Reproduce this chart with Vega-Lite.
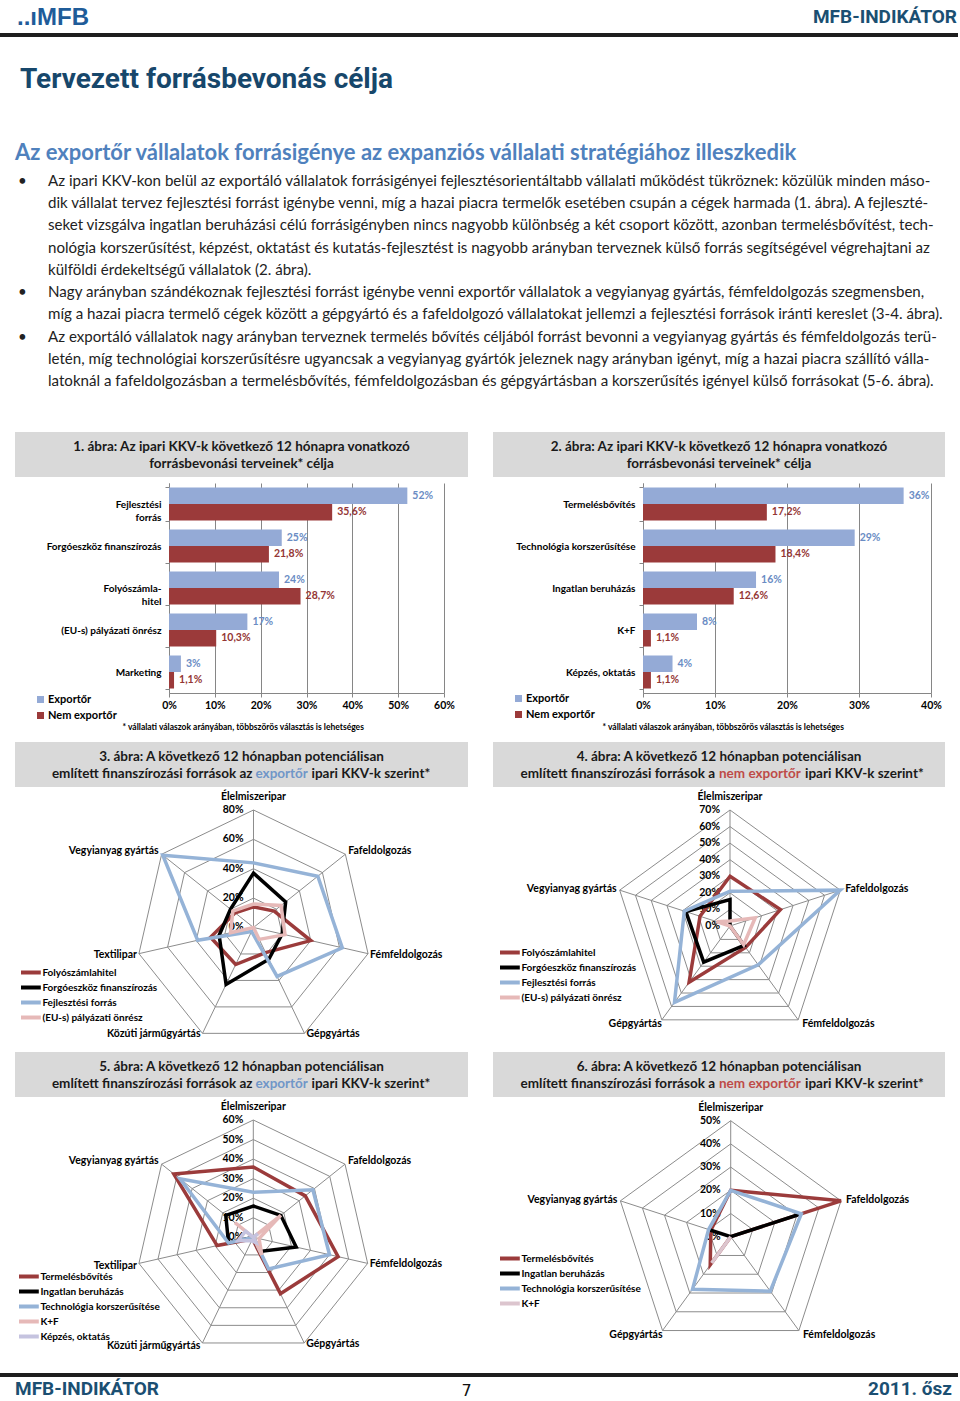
{
"$schema":"https://vega.github.io/schema/vega-lite/v6.json",
"background":"white","padding":0,"spacing":0,
"resolve":{"scale":{"color":"independent"}},
"config":{"view":{"stroke":null},"font":"Lato","text":{"font":"Lato"},"axis":{"labelFont":"Lato","titleFont":"Lato"},"legend":{"labelFont":"Lato"}},
"vconcat":[
{"width":960,"height":33,
 "data":{"values":[{"hely":"bal","szoveg":"..ıMFB"},{"hely":"jobb","szoveg":"MFB-INDIKÁTOR"}]},
 "encoding":{"x":{"field":"hely","type":"nominal","axis":null,"scale":{"type":"point","domain":["bal","jobb"],"range":[17,957],"padding":0}},"text":{"field":"szoveg"}},
 "layer":[
  {"transform":[{"filter":"datum.hely === 'bal'"}],"mark":{"type":"text","align":"left","baseline":"middle","font":"Liberation Sans","fontWeight":"bold","fontSize":24,"color":"#1F5C99","dy":1}},
  {"transform":[{"filter":"datum.hely === 'jobb'"}],"mark":{"type":"text","align":"right","baseline":"middle","font":"Roboto","fontWeight":"bold","fontSize":19,"color":"#1B4F72"}}
 ]},
{"width":958,"height":4,"view":{"fill":"#1E1E1E"},"data":{"values":[]},"mark":{"type":"text","text":""}},
{"width":960,"height":94,"data":{"values":[{"hely":"a","szoveg":"Tervezett forrásbevonás célja"}]},
 "mark":{"type":"text","align":"left","baseline":"alphabetic","dy":4,"font":"Roboto","fontWeight":"bold","fontSize":28,"color":"#17476B"},
 "encoding":{"x":{"field":"hely","type":"nominal","axis":null,"scale":{"type":"point","range":[20,20]}},"text":{"field":"szoveg"}}},
{"width":960,"height":37,"data":{"values":[{"hely":"a","szoveg":"Az exportőr vállalatok forrásigénye az expanziós vállalati stratégiához illeszkedik"}]},
 "mark":{"type":"text","align":"left","baseline":"alphabetic","dy":10.5,"font":"Lato","fontWeight":"bold","fontSize":22,"color":"#4F81BD"},
 "encoding":{"x":{"field":"hely","type":"nominal","axis":null,"scale":{"type":"point","range":[15,15]}},"text":{"field":"szoveg"}}},
{"width":960,"height":236,
 "data":{"values":[
  {"sor":1,"oszlop":"pont","szoveg":"•"},
  {"sor":1,"oszlop":"szoveg","szoveg":"Az ipari KKV-kon belül az exportáló vállalatok forrásigényei fejlesztésorientáltabb vállalati működést tükröznek: közülük minden máso-"},
  {"sor":2,"oszlop":"szoveg","szoveg":"dik vállalat tervez fejlesztési forrást igénybe venni, míg a hazai piacra termelők esetében csupán a cégek harmada (1. ábra). A fejleszté-"},
  {"sor":3,"oszlop":"szoveg","szoveg":"seket vizsgálva ingatlan beruházási célú forrásigényben nincs nagyobb különbség a két csoport között, azonban termelésbővítést, tech-"},
  {"sor":4,"oszlop":"szoveg","szoveg":"nológia korszerűsítést, képzést, oktatást és kutatás-fejlesztést is nagyobb arányban terveznek külső forrás segítségével végrehajtani az"},
  {"sor":5,"oszlop":"szoveg","szoveg":"külföldi érdekeltségű vállalatok (2. ábra)."},
  {"sor":6,"oszlop":"pont","szoveg":"•"},
  {"sor":6,"oszlop":"szoveg","szoveg":"Nagy arányban szándékoznak fejlesztési forrást igénybe venni exportőr vállalatok a vegyianyag gyártás, fémfeldolgozás szegmensben,"},
  {"sor":7,"oszlop":"szoveg","szoveg":"míg a hazai piacra termelő cégek között a gépgyártó és a fafeldolgozó vállalatokat jellemzi a fejlesztési források iránti kereslet (3-4. ábra)."},
  {"sor":8,"oszlop":"pont","szoveg":"•"},
  {"sor":8,"oszlop":"szoveg","szoveg":"Az exportáló vállalatok nagy arányban terveznek termelés bővítés céljából forrást bevonni a vegyianyag gyártás és fémfeldolgozás terü-"},
  {"sor":9,"oszlop":"szoveg","szoveg":"letén, míg technológiai korszerűsítésre ugyancsak a vegyianyag gyártók jeleznek nagy arányban igényt, míg a hazai piacra szállító válla-"},
  {"sor":10,"oszlop":"szoveg","szoveg":"latoknál a fafeldolgozásban a termelésbővítés, fémfeldolgozásban és gépgyártásban a korszerűsítés igényel külső forrásokat (5-6. ábra)."}
 ]},
 "mark":{"type":"text","align":"left","baseline":"alphabetic","font":"Lato","fontSize":15.1,"color":"#222222"},
 "encoding":{
  "x":{"field":"oszlop","type":"nominal","axis":null,"scale":{"type":"point","domain":["pont","szoveg"],"range":[18,48],"padding":0}},
  "y":{"field":"sor","type":"ordinal","axis":null,"scale":{"type":"point","padding":0.81}},
  "text":{"field":"szoveg"}}},
{"width":960,"height":28,"data":{"values":[]},"mark":{"type":"text","text":""}},
{"hconcat":[
 {"width":15,"height":45,"data":{"values":[]},"mark":{"type":"text","text":""}},
 {"width":453,"height":45,"view":{"fill":"#D9D9D9","stroke":null},
  "data":{"values":[{"sor":1,"szoveg":"1. ábra: Az ipari KKV-k következő 12 hónapra vonatkozó"},{"sor":2,"szoveg":"forrásbevonási  terveinek* célja"}]},
  "mark":{"type":"text","align":"center","baseline":"middle","dy":1,"font":"Lato","fontWeight":"bold","fontSize":13.5,"color":"#1A1A1A"},
  "encoding":{"y":{"field":"sor","type":"ordinal","axis":null,"scale":{"type":"point","padding":0.8}},"text":{"field":"szoveg"}}},
 {"width":25,"height":45,"data":{"values":[]},"mark":{"type":"text","text":""}},
 {"width":452,"height":45,"view":{"fill":"#D9D9D9","stroke":null},
  "data":{"values":[{"sor":1,"szoveg":"2. ábra: Az ipari KKV-k következő 12 hónapra vonatkozó"},{"sor":2,"szoveg":"forrásbevonási  terveinek* célja"}]},
  "mark":{"type":"text","align":"center","baseline":"middle","dy":1,"font":"Lato","fontWeight":"bold","fontSize":13.5,"color":"#1A1A1A"},
  "encoding":{"y":{"field":"sor","type":"ordinal","axis":null,"scale":{"type":"point","padding":0.8}},"text":{"field":"szoveg"}}}
],"spacing":0,"bounds":"flush","resolve":{"scale":{"color":"independent"}}},
{"width":960,"height":1,"data":{"values":[]},"mark":{"type":"text","text":""}},
{"hconcat":[
 {"width":169,"height":259,"data":{"values":[]},"mark":{"type":"text","text":""}},
 {"width":275,"height":210,
  "data":{"values":[
   {"kategoria":"Fejlesztési\nforrás","csoport":"Exportőr","ertek":52,"cimke":"52%"},
   {"kategoria":"Fejlesztési\nforrás","csoport":"Nem exportőr","ertek":35.6,"cimke":"35,6%"},
   {"kategoria":"Forgóeszköz finanszírozás","csoport":"Exportőr","ertek":24.6,"cimke":"25%"},
   {"kategoria":"Forgóeszköz finanszírozás","csoport":"Nem exportőr","ertek":21.8,"cimke":"21,8%"},
   {"kategoria":"Folyószámla-\nhitel","csoport":"Exportőr","ertek":24,"cimke":"24%"},
   {"kategoria":"Folyószámla-\nhitel","csoport":"Nem exportőr","ertek":28.7,"cimke":"28,7%"},
   {"kategoria":"(EU-s) pályázati önrész","csoport":"Exportőr","ertek":17.1,"cimke":"17%"},
   {"kategoria":"(EU-s) pályázati önrész","csoport":"Nem exportőr","ertek":10.3,"cimke":"10,3%"},
   {"kategoria":"Marketing","csoport":"Exportőr","ertek":2.6,"cimke":"3%"},
   {"kategoria":"Marketing","csoport":"Nem exportőr","ertek":1.1,"cimke":"1,1%"}
  ]},
  "encoding":{
   "y":{"field":"kategoria","type":"nominal","sort":null,"title":null,"scale":{"paddingInner":0.214,"paddingOuter":0.107},
    "axis":{"labelExpr":"split(datum.label, '\\n')","labelFont":"Lato","labelFontWeight":"bold","labelFontSize":10,"labelColor":"#000000","labelLineHeight":13.4,"tickBand":"extent","tickSize":4,"tickColor":"#868686","domainColor":"#868686","labelPadding":4,"labelLimit":200}},
   "yOffset":{"field":"csoport","type":"nominal","sort":["Exportőr","Nem exportőr"],"scale":{"paddingInner":0,"paddingOuter":0}},
   "x":{"field":"ertek","type":"quantitative","scale":{"domain":[0,60],"nice":false},
    "axis":{"values":[0,10,20,30,40,50,60],"labelExpr":"datum.value + '%'","labelFlush":false,"labelFontWeight":"bold","labelFontSize":10.5,"labelColor":"#000000","labelPadding":3,"grid":true,"gridColor":"#868686","tickColor":"#868686","tickSize":4,"domainColor":"#868686",
     "title":"* vállalati válaszok arányában, többszörös választás is lehetséges","titleFontSize":8.5,"titleFontWeight":"bold","titleColor":"#000000","titleAlign":"left","titleAnchor":"start","titleX":-47,"titleY":33,"titleBaseline":"middle"}}
  },
  "layer":[
   {"mark":{"type":"bar"},"encoding":{"color":{"field":"csoport","type":"nominal","scale":{"domain":["Exportőr","Nem exportőr"],"range":["#94AAD6","#9B3A3A"]},
     "legend":{"title":null,"orient":"none","legendX":-134,"legendY":211,"symbolType":"square","symbolSize":49,"symbolStrokeWidth":0,"labelFontWeight":"bold","labelFontSize":11,"labelColor":"#000000","labelOffset":2,"rowPadding":4,"padding":0}}}},
   {"mark":{"type":"text","align":"left","dx":5,"baseline":"middle","font":"Lato","fontWeight":"bold","fontSize":10.5},
    "encoding":{"text":{"field":"cimke"},"color":{"condition":{"test":"datum.csoport === 'Exportőr'","value":"#6A8CC4"},"value":"#943634"}}}
  ]},
 {"width":199,"height":259,"data":{"values":[]},"mark":{"type":"text","text":""}},
 {"width":288,"height":210,
  "data":{"values":[
   {"kategoria":"Termelésbővítés","csoport":"Exportőr","ertek":36.2,"cimke":"36%"},
   {"kategoria":"Termelésbővítés","csoport":"Nem exportőr","ertek":17.2,"cimke":"17,2%"},
   {"kategoria":"Technológia korszerűsítése","csoport":"Exportőr","ertek":29.4,"cimke":"29%"},
   {"kategoria":"Technológia korszerűsítése","csoport":"Nem exportőr","ertek":18.4,"cimke":"18,4%"},
   {"kategoria":"Ingatlan beruházás","csoport":"Exportőr","ertek":15.7,"cimke":"16%"},
   {"kategoria":"Ingatlan beruházás","csoport":"Nem exportőr","ertek":12.6,"cimke":"12,6%"},
   {"kategoria":"K+F","csoport":"Exportőr","ertek":7.5,"cimke":"8%"},
   {"kategoria":"K+F","csoport":"Nem exportőr","ertek":1.1,"cimke":"1,1%"},
   {"kategoria":"Képzés, oktatás","csoport":"Exportőr","ertek":4.1,"cimke":"4%"},
   {"kategoria":"Képzés, oktatás","csoport":"Nem exportőr","ertek":1.1,"cimke":"1,1%"}
  ]},
  "encoding":{
   "y":{"field":"kategoria","type":"nominal","sort":null,"title":null,"scale":{"paddingInner":0.214,"paddingOuter":0.107},
    "axis":{"labelFont":"Lato","labelFontWeight":"bold","labelFontSize":10,"labelColor":"#000000","tickBand":"extent","tickSize":4,"tickColor":"#868686","domainColor":"#868686","labelPadding":4,"labelLimit":200}},
   "yOffset":{"field":"csoport","type":"nominal","sort":["Exportőr","Nem exportőr"],"scale":{"paddingInner":0,"paddingOuter":0}},
   "x":{"field":"ertek","type":"quantitative","scale":{"domain":[0,40],"nice":false},
    "axis":{"values":[0,10,20,30,40],"labelExpr":"datum.value + '%'","labelFlush":false,"labelFontWeight":"bold","labelFontSize":10.5,"labelColor":"#000000","labelPadding":3,"grid":true,"gridColor":"#868686","tickColor":"#868686","tickSize":4,"domainColor":"#868686",
     "title":"* vállalati válaszok arányában, többszörös választás is lehetséges","titleFontSize":8.5,"titleFontWeight":"bold","titleColor":"#000000","titleAlign":"left","titleAnchor":"start","titleX":-41,"titleY":33,"titleBaseline":"middle"}}
  },
  "layer":[
   {"mark":{"type":"bar"},"encoding":{"color":{"field":"csoport","type":"nominal","scale":{"domain":["Exportőr","Nem exportőr"],"range":["#94AAD6","#9B3A3A"]},
     "legend":{"title":null,"orient":"none","legendX":-130,"legendY":210,"symbolType":"square","symbolSize":49,"symbolStrokeWidth":0,"labelFontWeight":"bold","labelFontSize":11,"labelColor":"#000000","labelOffset":2,"rowPadding":4,"padding":0}}}},
   {"mark":{"type":"text","align":"left","dx":5,"baseline":"middle","font":"Lato","fontWeight":"bold","fontSize":10.5},
    "encoding":{"text":{"field":"cimke"},"color":{"condition":{"test":"datum.csoport === 'Exportőr'","value":"#6A8CC4"},"value":"#943634"}}}
  ]}
],"spacing":0,"bounds":"flush","resolve":{"scale":{"color":"independent"}}},
{"hconcat":[
 {"width":15,"height":45,"data":{"values":[]},"mark":{"type":"text","text":""}},
 {"width":453,"height":45,"view":{"fill":"#D9D9D9","stroke":null},
  "data":{"values":[{"sor":1,"resz":"a","szoveg":"3. ábra: A következő 12 hónapban  potenciálisan"},{"sor":2,"resz":"b","szoveg":"említett finanszírozási  források az"},{"sor":2,"resz":"c","szoveg":"exportőr"},{"sor":2,"resz":"d","szoveg":"ipari KKV-k szerint*"}]},
  "encoding":{"y":{"field":"sor","type":"ordinal","axis":null,"scale":{"type":"point","padding":0.8}},"text":{"field":"szoveg"}},
  "layer":[
   {"transform":[{"filter":"datum.resz === 'a'"}],"mark":{"type":"text","align":"center","baseline":"middle","dy":1,"font":"Lato","fontWeight":"bold","fontSize":13.5,"color":"#1A1A1A"}},
   {"transform":[{"filter":"datum.resz === 'b'"}],"mark":{"type":"text","align":"right","dx":11,"baseline":"middle","dy":1,"font":"Lato","fontWeight":"bold","fontSize":13.5,"color":"#1A1A1A"}},
   {"transform":[{"filter":"datum.resz === 'c'"}],"mark":{"type":"text","align":"left","dx":14,"baseline":"middle","dy":1,"font":"Lato","fontWeight":"bold","fontSize":13.5,"color":"#7096C8"}},
   {"transform":[{"filter":"datum.resz === 'd'"}],"mark":{"type":"text","align":"left","dx":70,"baseline":"middle","dy":1,"font":"Lato","fontWeight":"bold","fontSize":13.5,"color":"#1A1A1A"}}
  ]},
 {"width":25,"height":45,"data":{"values":[]},"mark":{"type":"text","text":""}},
 {"width":452,"height":45,"view":{"fill":"#D9D9D9","stroke":null},
  "data":{"values":[{"sor":1,"resz":"a","szoveg":"4. ábra: A következő 12 hónapban  potenciálisan"},{"sor":2,"resz":"b","szoveg":"említett finanszírozási  források a"},{"sor":2,"resz":"c","szoveg":"nem exportőr"},{"sor":2,"resz":"d","szoveg":"ipari KKV-k szerint*"}]},
  "encoding":{"y":{"field":"sor","type":"ordinal","axis":null,"scale":{"type":"point","padding":0.8}},"text":{"field":"szoveg"}},
  "layer":[
   {"transform":[{"filter":"datum.resz === 'a'"}],"mark":{"type":"text","align":"center","baseline":"middle","dy":1,"font":"Lato","fontWeight":"bold","fontSize":13.5,"color":"#1A1A1A"}},
   {"transform":[{"filter":"datum.resz === 'b'"}],"mark":{"type":"text","align":"right","dx":-4,"baseline":"middle","dy":1,"font":"Lato","fontWeight":"bold","fontSize":13.5,"color":"#1A1A1A"}},
   {"transform":[{"filter":"datum.resz === 'c'"}],"mark":{"type":"text","align":"left","dx":0,"baseline":"middle","dy":1,"font":"Lato","fontWeight":"bold","fontSize":13.5,"color":"#BE4B48"}},
   {"transform":[{"filter":"datum.resz === 'd'"}],"mark":{"type":"text","align":"left","dx":86,"baseline":"middle","dy":1,"font":"Lato","fontWeight":"bold","fontSize":13.5,"color":"#1A1A1A"}}
  ]}
],"spacing":0,"bounds":"flush","resolve":{"scale":{"color":"independent"}}},
{"hconcat":[
 {"width":15,"height":265,"data":{"values":[]},"mark":{"type":"text","text":""}},
 {"width":453,"height":265,
  "data":{"values":[
   {"sorozat":"Folyószámlahitel","agazat":"Élelmiszeripar","i":0,"ertek":14},
   {"sorozat":"Folyószámlahitel","agazat":"Fafeldolgozás","i":1,"ertek":18},
   {"sorozat":"Folyószámlahitel","agazat":"Fémfeldolgozás","i":2,"ertek":40},
   {"sorozat":"Folyószámlahitel","agazat":"Gépgyártás","i":3,"ertek":19},
   {"sorozat":"Folyószámlahitel","agazat":"Közúti járműgyártás","i":4,"ertek":28},
   {"sorozat":"Folyószámlahitel","agazat":"Textilipar","i":5,"ertek":30},
   {"sorozat":"Folyószámlahitel","agazat":"Vegyianyag gyártás","i":6,"ertek":16},
   {"sorozat":"Forgóeszköz finanszírozás","agazat":"Élelmiszeripar","i":0,"ertek":37},
   {"sorozat":"Forgóeszköz finanszírozás","agazat":"Fafeldolgozás","i":1,"ertek":28},
   {"sorozat":"Forgóeszköz finanszírozás","agazat":"Fémfeldolgozás","i":2,"ertek":20},
   {"sorozat":"Forgóeszköz finanszírozás","agazat":"Gépgyártás","i":3,"ertek":24},
   {"sorozat":"Forgóeszköz finanszírozás","agazat":"Közúti járműgyártás","i":4,"ertek":43},
   {"sorozat":"Forgóeszköz finanszírozás","agazat":"Textilipar","i":5,"ertek":24},
   {"sorozat":"Forgóeszköz finanszírozás","agazat":"Vegyianyag gyártás","i":6,"ertek":20},
   {"sorozat":"Fejlesztési forrás","agazat":"Élelmiszeripar","i":0,"ertek":44},
   {"sorozat":"Fejlesztési forrás","agazat":"Fafeldolgozás","i":1,"ertek":56},
   {"sorozat":"Fejlesztési forrás","agazat":"Fémfeldolgozás","i":2,"ertek":62},
   {"sorozat":"Fejlesztési forrás","agazat":"Gépgyártás","i":3,"ertek":37},
   {"sorozat":"Fejlesztési forrás","agazat":"Közúti járműgyártás","i":4,"ertek":3},
   {"sorozat":"Fejlesztési forrás","agazat":"Textilipar","i":5,"ertek":39},
   {"sorozat":"Fejlesztési forrás","agazat":"Vegyianyag gyártás","i":6,"ertek":79},
   {"sorozat":"(EU-s) pályázati önrész","agazat":"Élelmiszeripar","i":0,"ertek":16},
   {"sorozat":"(EU-s) pályázati önrész","agazat":"Fafeldolgozás","i":1,"ertek":24},
   {"sorozat":"(EU-s) pályázati önrész","agazat":"Fémfeldolgozás","i":2,"ertek":22},
   {"sorozat":"(EU-s) pályázati önrész","agazat":"Gépgyártás","i":3,"ertek":9},
   {"sorozat":"(EU-s) pályázati önrész","agazat":"Közúti járműgyártás","i":4,"ertek":0},
   {"sorozat":"(EU-s) pályázati önrész","agazat":"Textilipar","i":5,"ertek":16},
   {"sorozat":"(EU-s) pályázati önrész","agazat":"Vegyianyag gyártás","i":6,"ertek":18}
  ]},
  "encoding":{
   "x":{"field":"px","type":"quantitative","axis":null,"scale":{"domain":[-162.38,146.04],"nice":false,"zero":false}},
   "y":{"field":"py","type":"quantitative","axis":null,"scale":{"domain":[-84.77,95.66],"nice":false,"zero":false}}},
  "layer":[
   {"data":{"values":[{"kor":20,"k":[0,1,2,3,4,5,6]},{"kor":40,"k":[0,1,2,3,4,5,6]},{"kor":60,"k":[0,1,2,3,4,5,6]},{"kor":80,"k":[0,1,2,3,4,5,6]}]},
    "transform":[{"flatten":["k"]},{"calculate":"datum.kor*sin(datum.k*2*PI/7)","as":"px"},{"calculate":"datum.kor*cos(datum.k*2*PI/7)","as":"py"}],
    "mark":{"type":"line","interpolate":"linear-closed","color":"#8C8C8C","strokeWidth":1},
    "encoding":{"detail":{"field":"kor","type":"nominal"},"order":{"field":"k","type":"quantitative"}}},
   {"transform":[{"filter":"datum.sorozat === 'Folyószámlahitel'"},{"calculate":"0","as":"px"},{"calculate":"0","as":"py"},{"calculate":"80*sin(datum.i*2*PI/7)","as":"sx"},{"calculate":"80*cos(datum.i*2*PI/7)","as":"sy"}],
    "mark":{"type":"rule","color":"#8C8C8C","strokeWidth":1},
    "encoding":{"x2":{"field":"sx"},"y2":{"field":"sy"}}},
   {"data":{"values":[{"t":0},{"t":20},{"t":40},{"t":60},{"t":80}]},
    "transform":[{"calculate":"0","as":"px"},{"calculate":"datum.t","as":"py"},{"calculate":"datum.t + '%'","as":"cimke"}],
    "mark":{"type":"text","align":"right","dx":-10,"baseline":"middle","font":"Lato","fontWeight":"bold","fontSize":10.5,"color":"#000000"},
    "encoding":{"text":{"field":"cimke"}}},
   {"transform":[{"filter":"datum.sorozat === 'Folyószámlahitel'"},{"calculate":"80*sin(datum.i*2*PI/7)","as":"px"},{"calculate":"80*cos(datum.i*2*PI/7)","as":"py"},{"filter":"abs(datum.px) < 1"}],
    "mark":{"type":"text","align":"center","dy":-13,"baseline":"middle","font":"Lato","fontWeight":"bold","fontSize":10.5,"color":"#000000"},
    "encoding":{"text":{"field":"agazat"}}},
   {"transform":[{"filter":"datum.sorozat === 'Folyószámlahitel'"},{"calculate":"80*sin(datum.i*2*PI/7)","as":"px"},{"calculate":"80*cos(datum.i*2*PI/7)","as":"py"},{"filter":"datum.px >= 1 && datum.py > 0"}],
    "mark":{"type":"text","align":"left","dx":3,"dy":-3,"baseline":"middle","font":"Lato","fontWeight":"bold","fontSize":10.5,"color":"#000000"},
    "encoding":{"text":{"field":"agazat"}}},
   {"transform":[{"filter":"datum.sorozat === 'Folyószámlahitel'"},{"calculate":"80*sin(datum.i*2*PI/7)","as":"px"},{"calculate":"80*cos(datum.i*2*PI/7)","as":"py"},{"filter":"datum.px >= 1 && datum.py <= 0"}],
    "mark":{"type":"text","align":"left","dx":2,"dy":1,"baseline":"middle","font":"Lato","fontWeight":"bold","fontSize":10.5,"color":"#000000"},
    "encoding":{"text":{"field":"agazat"}}},
   {"transform":[{"filter":"datum.sorozat === 'Folyószámlahitel'"},{"calculate":"80*sin(datum.i*2*PI/7)","as":"px"},{"calculate":"80*cos(datum.i*2*PI/7)","as":"py"},{"filter":"datum.px <= -1 && datum.py > 0"}],
    "mark":{"type":"text","align":"right","dx":-3,"dy":-3,"baseline":"middle","font":"Lato","fontWeight":"bold","fontSize":10.5,"color":"#000000"},
    "encoding":{"text":{"field":"agazat"}}},
   {"transform":[{"filter":"datum.sorozat === 'Folyószámlahitel'"},{"calculate":"80*sin(datum.i*2*PI/7)","as":"px"},{"calculate":"80*cos(datum.i*2*PI/7)","as":"py"},{"filter":"datum.px <= -1 && datum.py <= 0"}],
    "mark":{"type":"text","align":"right","dx":-2,"dy":1,"baseline":"middle","font":"Lato","fontWeight":"bold","fontSize":10.5,"color":"#000000"},
    "encoding":{"text":{"field":"agazat"}}},
   {"transform":[{"calculate":"datum.ertek*sin(datum.i*2*PI/7)","as":"px"},{"calculate":"datum.ertek*cos(datum.i*2*PI/7)","as":"py"}],
    "mark":{"type":"line","interpolate":"linear-closed","strokeWidth":3.5},
    "encoding":{"order":{"field":"i","type":"quantitative"},
     "color":{"field":"sorozat","type":"nominal","scale":{"domain":["Folyószámlahitel","Forgóeszköz finanszírozás","Fejlesztési forrás","(EU-s) pályázati önrész"],"range":["#9B3B3B","#000000","#95B3D7","#E6B9B8"]},
      "legend":{"title":null,"orient":"none","legendX":9.4,"legendY":179,"symbolType":"M-2.2,0H2.2","symbolSize":81,"symbolStrokeWidth":4,"labelFontWeight":"bold","labelFontSize":10,"labelColor":"#000000","labelOffset":5,"rowPadding":-4,"padding":0}}}}
  ]},
 {"width":25,"height":265,"data":{"values":[]},"mark":{"type":"text","text":""}},
 {"width":452,"height":265,
  "data":{"values":[
   {"sorozat":"Folyószámlahitel","agazat":"Élelmiszeripar","i":0,"ertek":30},
   {"sorozat":"Folyószámlahitel","agazat":"Fafeldolgozás","i":1,"ertek":32},
   {"sorozat":"Folyószámlahitel","agazat":"Fémfeldolgozás","i":2,"ertek":16},
   {"sorozat":"Folyószámlahitel","agazat":"Gépgyártás","i":3,"ertek":42},
   {"sorozat":"Folyószámlahitel","agazat":"Vegyianyag gyártás","i":4,"ertek":19},
   {"sorozat":"Forgóeszköz finanszírozás","agazat":"Élelmiszeripar","i":0,"ertek":16},
   {"sorozat":"Forgóeszköz finanszírozás","agazat":"Fafeldolgozás","i":1,"ertek":0},
   {"sorozat":"Forgóeszköz finanszírozás","agazat":"Fémfeldolgozás","i":2,"ertek":14.5},
   {"sorozat":"Forgóeszköz finanszírozás","agazat":"Gépgyártás","i":3,"ertek":27},
   {"sorozat":"Forgóeszköz finanszírozás","agazat":"Vegyianyag gyártás","i":4,"ertek":28},
   {"sorozat":"Fejlesztési forrás","agazat":"Élelmiszeripar","i":0,"ertek":21},
   {"sorozat":"Fejlesztési forrás","agazat":"Fafeldolgozás","i":1,"ertek":70},
   {"sorozat":"Fejlesztési forrás","agazat":"Fémfeldolgozás","i":2,"ertek":29},
   {"sorozat":"Fejlesztési forrás","agazat":"Gépgyártás","i":3,"ertek":57},
   {"sorozat":"Fejlesztési forrás","agazat":"Vegyianyag gyártás","i":4,"ertek":29},
   {"sorozat":"(EU-s) pályázati önrész","agazat":"Élelmiszeripar","i":0,"ertek":3},
   {"sorozat":"(EU-s) pályázati önrész","agazat":"Fafeldolgozás","i":1,"ertek":16},
   {"sorozat":"(EU-s) pályázati önrész","agazat":"Fémfeldolgozás","i":2,"ertek":14},
   {"sorozat":"(EU-s) pályázati önrész","agazat":"Gépgyártás","i":3,"ertek":0},
   {"sorozat":"(EU-s) pályázati önrész","agazat":"Vegyianyag gyártás","i":4,"ertek":8.5}
  ]},
  "encoding":{
   "x":{"field":"px","type":"quantitative","axis":null,"scale":{"domain":[-143.03,129.75],"nice":false,"zero":false}},
   "y":{"field":"py","type":"quantitative","axis":null,"scale":{"domain":[-76.04,83.89],"nice":false,"zero":false}}},
  "layer":[
   {"data":{"values":[{"kor":10,"k":[0,1,2,3,4]},{"kor":20,"k":[0,1,2,3,4]},{"kor":30,"k":[0,1,2,3,4]},{"kor":40,"k":[0,1,2,3,4]},{"kor":50,"k":[0,1,2,3,4]},{"kor":60,"k":[0,1,2,3,4]},{"kor":70,"k":[0,1,2,3,4]}]},
    "transform":[{"flatten":["k"]},{"calculate":"datum.kor*sin(datum.k*2*PI/5)","as":"px"},{"calculate":"datum.kor*cos(datum.k*2*PI/5)","as":"py"}],
    "mark":{"type":"line","interpolate":"linear-closed","color":"#8C8C8C","strokeWidth":1},
    "encoding":{"detail":{"field":"kor","type":"nominal"},"order":{"field":"k","type":"quantitative"}}},
   {"transform":[{"filter":"datum.sorozat === 'Folyószámlahitel'"},{"calculate":"0","as":"px"},{"calculate":"0","as":"py"},{"calculate":"70*sin(datum.i*2*PI/5)","as":"sx"},{"calculate":"70*cos(datum.i*2*PI/5)","as":"sy"}],
    "mark":{"type":"rule","color":"#8C8C8C","strokeWidth":1},
    "encoding":{"x2":{"field":"sx"},"y2":{"field":"sy"}}},
   {"data":{"values":[{"t":0},{"t":10},{"t":20},{"t":30},{"t":40},{"t":50},{"t":60},{"t":70}]},
    "transform":[{"calculate":"0","as":"px"},{"calculate":"datum.t","as":"py"},{"calculate":"datum.t + '%'","as":"cimke"}],
    "mark":{"type":"text","align":"right","dx":-10,"baseline":"middle","font":"Lato","fontWeight":"bold","fontSize":10.5,"color":"#000000"},
    "encoding":{"text":{"field":"cimke"}}},
   {"transform":[{"filter":"datum.sorozat === 'Folyószámlahitel'"},{"calculate":"70*sin(datum.i*2*PI/5)","as":"px"},{"calculate":"70*cos(datum.i*2*PI/5)","as":"py"},{"filter":"abs(datum.px) < 1"}],
    "mark":{"type":"text","align":"center","dy":-13,"baseline":"middle","font":"Lato","fontWeight":"bold","fontSize":10.5,"color":"#000000"},
    "encoding":{"text":{"field":"agazat"}}},
   {"transform":[{"filter":"datum.sorozat === 'Folyószámlahitel'"},{"calculate":"70*sin(datum.i*2*PI/5)","as":"px"},{"calculate":"70*cos(datum.i*2*PI/5)","as":"py"},{"filter":"datum.px >= 1 && datum.py > 0"}],
    "mark":{"type":"text","align":"left","dx":5,"dy":-1,"baseline":"middle","font":"Lato","fontWeight":"bold","fontSize":10.5,"color":"#000000"},
    "encoding":{"text":{"field":"agazat"}}},
   {"transform":[{"filter":"datum.sorozat === 'Folyószámlahitel'"},{"calculate":"70*sin(datum.i*2*PI/5)","as":"px"},{"calculate":"70*cos(datum.i*2*PI/5)","as":"py"},{"filter":"datum.px >= 1 && datum.py <= 0"}],
    "mark":{"type":"text","align":"left","dx":4,"dy":4,"baseline":"middle","font":"Lato","fontWeight":"bold","fontSize":10.5,"color":"#000000"},
    "encoding":{"text":{"field":"agazat"}}},
   {"transform":[{"filter":"datum.sorozat === 'Folyószámlahitel'"},{"calculate":"70*sin(datum.i*2*PI/5)","as":"px"},{"calculate":"70*cos(datum.i*2*PI/5)","as":"py"},{"filter":"datum.px <= -1 && datum.py > 0"}],
    "mark":{"type":"text","align":"right","dx":-3,"dy":-1,"baseline":"middle","font":"Lato","fontWeight":"bold","fontSize":10.5,"color":"#000000"},
    "encoding":{"text":{"field":"agazat"}}},
   {"transform":[{"filter":"datum.sorozat === 'Folyószámlahitel'"},{"calculate":"70*sin(datum.i*2*PI/5)","as":"px"},{"calculate":"70*cos(datum.i*2*PI/5)","as":"py"},{"filter":"datum.px <= -1 && datum.py <= 0"}],
    "mark":{"type":"text","align":"right","dx":0,"dy":4,"baseline":"middle","font":"Lato","fontWeight":"bold","fontSize":10.5,"color":"#000000"},
    "encoding":{"text":{"field":"agazat"}}},
   {"transform":[{"calculate":"datum.ertek*sin(datum.i*2*PI/5)","as":"px"},{"calculate":"datum.ertek*cos(datum.i*2*PI/5)","as":"py"}],
    "mark":{"type":"line","interpolate":"linear-closed","strokeWidth":3.5},
    "encoding":{"order":{"field":"i","type":"quantitative"},
     "color":{"field":"sorozat","type":"nominal","scale":{"domain":["Folyószámlahitel","Forgóeszköz finanszírozás","Fejlesztési forrás","(EU-s) pályázati önrész"],"range":["#9B3B3B","#000000","#95B3D7","#E6B9B8"]},
      "legend":{"title":null,"orient":"none","legendX":10.4,"legendY":159,"symbolType":"M-2.2,0H2.2","symbolSize":81,"symbolStrokeWidth":4,"labelFontWeight":"bold","labelFontSize":10,"labelColor":"#000000","labelOffset":5,"rowPadding":-4,"padding":0}}}}
  ]}
],"spacing":0,"bounds":"flush","resolve":{"scale":{"color":"independent"}}},
{"hconcat":[
 {"width":15,"height":45,"data":{"values":[]},"mark":{"type":"text","text":""}},
 {"width":453,"height":45,"view":{"fill":"#D9D9D9","stroke":null},
  "data":{"values":[{"sor":1,"resz":"a","szoveg":"5. ábra: A következő 12 hónapban  potenciálisan"},{"sor":2,"resz":"b","szoveg":"említett finanszírozási  források az"},{"sor":2,"resz":"c","szoveg":"exportőr"},{"sor":2,"resz":"d","szoveg":"ipari KKV-k szerint*"}]},
  "encoding":{"y":{"field":"sor","type":"ordinal","axis":null,"scale":{"type":"point","padding":0.8}},"text":{"field":"szoveg"}},
  "layer":[
   {"transform":[{"filter":"datum.resz === 'a'"}],"mark":{"type":"text","align":"center","baseline":"middle","dy":1,"font":"Lato","fontWeight":"bold","fontSize":13.5,"color":"#1A1A1A"}},
   {"transform":[{"filter":"datum.resz === 'b'"}],"mark":{"type":"text","align":"right","dx":11,"baseline":"middle","dy":1,"font":"Lato","fontWeight":"bold","fontSize":13.5,"color":"#1A1A1A"}},
   {"transform":[{"filter":"datum.resz === 'c'"}],"mark":{"type":"text","align":"left","dx":14,"baseline":"middle","dy":1,"font":"Lato","fontWeight":"bold","fontSize":13.5,"color":"#7096C8"}},
   {"transform":[{"filter":"datum.resz === 'd'"}],"mark":{"type":"text","align":"left","dx":70,"baseline":"middle","dy":1,"font":"Lato","fontWeight":"bold","fontSize":13.5,"color":"#1A1A1A"}}
  ]},
 {"width":25,"height":45,"data":{"values":[]},"mark":{"type":"text","text":""}},
 {"width":452,"height":45,"view":{"fill":"#D9D9D9","stroke":null},
  "data":{"values":[{"sor":1,"resz":"a","szoveg":"6. ábra: A következő 12 hónapban  potenciálisan"},{"sor":2,"resz":"b","szoveg":"említett finanszírozási  források a"},{"sor":2,"resz":"c","szoveg":"nem exportőr"},{"sor":2,"resz":"d","szoveg":"ipari KKV-k szerint*"}]},
  "encoding":{"y":{"field":"sor","type":"ordinal","axis":null,"scale":{"type":"point","padding":0.8}},"text":{"field":"szoveg"}},
  "layer":[
   {"transform":[{"filter":"datum.resz === 'a'"}],"mark":{"type":"text","align":"center","baseline":"middle","dy":1,"font":"Lato","fontWeight":"bold","fontSize":13.5,"color":"#1A1A1A"}},
   {"transform":[{"filter":"datum.resz === 'b'"}],"mark":{"type":"text","align":"right","dx":-4,"baseline":"middle","dy":1,"font":"Lato","fontWeight":"bold","fontSize":13.5,"color":"#1A1A1A"}},
   {"transform":[{"filter":"datum.resz === 'c'"}],"mark":{"type":"text","align":"left","dx":0,"baseline":"middle","dy":1,"font":"Lato","fontWeight":"bold","fontSize":13.5,"color":"#BE4B48"}},
   {"transform":[{"filter":"datum.resz === 'd'"}],"mark":{"type":"text","align":"left","dx":86,"baseline":"middle","dy":1,"font":"Lato","fontWeight":"bold","fontSize":13.5,"color":"#1A1A1A"}}
  ]}
],"spacing":0,"bounds":"flush","resolve":{"scale":{"color":"independent"}}},
{"hconcat":[
 {"width":15,"height":265,"data":{"values":[]},"mark":{"type":"text","text":""}},
 {"width":453,"height":265,
  "data":{"values":[
   {"sorozat":"Termelésbővítés","agazat":"Élelmiszeripar","i":0,"ertek":36},
   {"sorozat":"Termelésbővítés","agazat":"Fafeldolgozás","i":1,"ertek":34},
   {"sorozat":"Termelésbővítés","agazat":"Fémfeldolgozás","i":2,"ertek":44.5},
   {"sorozat":"Termelésbővítés","agazat":"Gépgyártás","i":3,"ertek":32},
   {"sorozat":"Termelésbővítés","agazat":"Közúti járműgyártás","i":4,"ertek":1},
   {"sorozat":"Termelésbővítés","agazat":"Textilipar","i":5,"ertek":19},
   {"sorozat":"Termelésbővítés","agazat":"Vegyianyag gyártás","i":6,"ertek":52},
   {"sorozat":"Ingatlan beruházás","agazat":"Élelmiszeripar","i":0,"ertek":16},
   {"sorozat":"Ingatlan beruházás","agazat":"Fafeldolgozás","i":1,"ertek":18},
   {"sorozat":"Ingatlan beruházás","agazat":"Fémfeldolgozás","i":2,"ertek":22.5},
   {"sorozat":"Ingatlan beruházás","agazat":"Gépgyártás","i":3,"ertek":8},
   {"sorozat":"Ingatlan beruházás","agazat":"Közúti járműgyártás","i":4,"ertek":0},
   {"sorozat":"Ingatlan beruházás","agazat":"Textilipar","i":5,"ertek":13},
   {"sorozat":"Ingatlan beruházás","agazat":"Vegyianyag gyártás","i":6,"ertek":18},
   {"sorozat":"Technológia korszerűsítése","agazat":"Élelmiszeripar","i":0,"ertek":23},
   {"sorozat":"Technológia korszerűsítése","agazat":"Fafeldolgozás","i":1,"ertek":39},
   {"sorozat":"Technológia korszerűsítése","agazat":"Fémfeldolgozás","i":2,"ertek":40},
   {"sorozat":"Technológia korszerűsítése","agazat":"Gépgyártás","i":3,"ertek":18},
   {"sorozat":"Technológia korszerűsítése","agazat":"Közúti járműgyártás","i":4,"ertek":0},
   {"sorozat":"Technológia korszerűsítése","agazat":"Textilipar","i":5,"ertek":13},
   {"sorozat":"Technológia korszerűsítése","agazat":"Vegyianyag gyártás","i":6,"ertek":48},
   {"sorozat":"K+F","agazat":"Élelmiszeripar","i":0,"ertek":0},
   {"sorozat":"K+F","agazat":"Fafeldolgozás","i":1,"ertek":18},
   {"sorozat":"K+F","agazat":"Fémfeldolgozás","i":2,"ertek":3},
   {"sorozat":"K+F","agazat":"Gépgyártás","i":3,"ertek":10},
   {"sorozat":"K+F","agazat":"Közúti járműgyártás","i":4,"ertek":0},
   {"sorozat":"K+F","agazat":"Textilipar","i":5,"ertek":0},
   {"sorozat":"K+F","agazat":"Vegyianyag gyártás","i":6,"ertek":12},
   {"sorozat":"Képzés, oktatás","agazat":"Élelmiszeripar","i":0,"ertek":0},
   {"sorozat":"Képzés, oktatás","agazat":"Fafeldolgozás","i":1,"ertek":3},
   {"sorozat":"Képzés, oktatás","agazat":"Fémfeldolgozás","i":2,"ertek":0},
   {"sorozat":"Képzés, oktatás","agazat":"Gépgyártás","i":3,"ertek":3},
   {"sorozat":"Képzés, oktatás","agazat":"Közúti járműgyártás","i":4,"ertek":2},
   {"sorozat":"Képzés, oktatás","agazat":"Textilipar","i":5,"ertek":8},
   {"sorozat":"Képzés, oktatás","agazat":"Vegyianyag gyártás","i":6,"ertek":5}
  ]},
  "encoding":{
   "x":{"field":"px","type":"quantitative","axis":null,"scale":{"domain":[-121.89,109.82],"nice":false,"zero":false}},
   "y":{"field":"py","type":"quantitative","axis":null,"scale":{"domain":[-63.79,71.77],"nice":false,"zero":false}}},
  "layer":[
   {"data":{"values":[{"kor":10,"k":[0,1,2,3,4,5,6]},{"kor":20,"k":[0,1,2,3,4,5,6]},{"kor":30,"k":[0,1,2,3,4,5,6]},{"kor":40,"k":[0,1,2,3,4,5,6]},{"kor":50,"k":[0,1,2,3,4,5,6]},{"kor":60,"k":[0,1,2,3,4,5,6]}]},
    "transform":[{"flatten":["k"]},{"calculate":"datum.kor*sin(datum.k*2*PI/7)","as":"px"},{"calculate":"datum.kor*cos(datum.k*2*PI/7)","as":"py"}],
    "mark":{"type":"line","interpolate":"linear-closed","color":"#8C8C8C","strokeWidth":1},
    "encoding":{"detail":{"field":"kor","type":"nominal"},"order":{"field":"k","type":"quantitative"}}},
   {"transform":[{"filter":"datum.sorozat === 'Termelésbővítés'"},{"calculate":"0","as":"px"},{"calculate":"0","as":"py"},{"calculate":"60*sin(datum.i*2*PI/7)","as":"sx"},{"calculate":"60*cos(datum.i*2*PI/7)","as":"sy"}],
    "mark":{"type":"rule","color":"#8C8C8C","strokeWidth":1},
    "encoding":{"x2":{"field":"sx"},"y2":{"field":"sy"}}},
   {"data":{"values":[{"t":0},{"t":10},{"t":20},{"t":30},{"t":40},{"t":50},{"t":60}]},
    "transform":[{"calculate":"0","as":"px"},{"calculate":"datum.t","as":"py"},{"calculate":"datum.t + '%'","as":"cimke"}],
    "mark":{"type":"text","align":"right","dx":-10,"baseline":"middle","font":"Lato","fontWeight":"bold","fontSize":10.5,"color":"#000000"},
    "encoding":{"text":{"field":"cimke"}}},
   {"transform":[{"filter":"datum.sorozat === 'Termelésbővítés'"},{"calculate":"60*sin(datum.i*2*PI/7)","as":"px"},{"calculate":"60*cos(datum.i*2*PI/7)","as":"py"},{"filter":"abs(datum.px) < 1"}],
    "mark":{"type":"text","align":"center","dy":-13,"baseline":"middle","font":"Lato","fontWeight":"bold","fontSize":10.5,"color":"#000000"},
    "encoding":{"text":{"field":"agazat"}}},
   {"transform":[{"filter":"datum.sorozat === 'Termelésbővítés'"},{"calculate":"60*sin(datum.i*2*PI/7)","as":"px"},{"calculate":"60*cos(datum.i*2*PI/7)","as":"py"},{"filter":"datum.px >= 1 && datum.py > 0"}],
    "mark":{"type":"text","align":"left","dx":3,"dy":-3,"baseline":"middle","font":"Lato","fontWeight":"bold","fontSize":10.5,"color":"#000000"},
    "encoding":{"text":{"field":"agazat"}}},
   {"transform":[{"filter":"datum.sorozat === 'Termelésbővítés'"},{"calculate":"60*sin(datum.i*2*PI/7)","as":"px"},{"calculate":"60*cos(datum.i*2*PI/7)","as":"py"},{"filter":"datum.px >= 1 && datum.py <= 0"}],
    "mark":{"type":"text","align":"left","dx":2,"dy":1,"baseline":"middle","font":"Lato","fontWeight":"bold","fontSize":10.5,"color":"#000000"},
    "encoding":{"text":{"field":"agazat"}}},
   {"transform":[{"filter":"datum.sorozat === 'Termelésbővítés'"},{"calculate":"60*sin(datum.i*2*PI/7)","as":"px"},{"calculate":"60*cos(datum.i*2*PI/7)","as":"py"},{"filter":"datum.px <= -1 && datum.py > 0"}],
    "mark":{"type":"text","align":"right","dx":-3,"dy":-3,"baseline":"middle","font":"Lato","fontWeight":"bold","fontSize":10.5,"color":"#000000"},
    "encoding":{"text":{"field":"agazat"}}},
   {"transform":[{"filter":"datum.sorozat === 'Termelésbővítés'"},{"calculate":"60*sin(datum.i*2*PI/7)","as":"px"},{"calculate":"60*cos(datum.i*2*PI/7)","as":"py"},{"filter":"datum.px <= -1 && datum.py <= 0"}],
    "mark":{"type":"text","align":"right","dx":-2,"dy":3,"baseline":"middle","font":"Lato","fontWeight":"bold","fontSize":10.5,"color":"#000000"},
    "encoding":{"text":{"field":"agazat"}}},
   {"transform":[{"calculate":"datum.ertek*sin(datum.i*2*PI/7)","as":"px"},{"calculate":"datum.ertek*cos(datum.i*2*PI/7)","as":"py"}],
    "mark":{"type":"line","interpolate":"linear-closed","strokeWidth":3.5},
    "encoding":{"order":{"field":"i","type":"quantitative"},
     "color":{"field":"sorozat","type":"nominal","scale":{"domain":["Termelésbővítés","Ingatlan beruházás","Technológia korszerűsítése","K+F","Képzés, oktatás"],"range":["#9B3B3B","#000000","#95B3D7","#E6B9B8","#C5C3DF"]},
      "legend":{"title":null,"orient":"none","legendX":7.4,"legendY":173,"symbolType":"M-2.2,0H2.2","symbolSize":81,"symbolStrokeWidth":4,"labelFontWeight":"bold","labelFontSize":10,"labelColor":"#000000","labelOffset":5,"rowPadding":-4,"padding":0}}}}
  ]},
 {"width":25,"height":265,"data":{"values":[]},"mark":{"type":"text","text":""}},
 {"width":452,"height":265,
  "data":{"values":[
   {"sorozat":"Termelésbővítés","agazat":"Élelmiszeripar","i":0,"ertek":20},
   {"sorozat":"Termelésbővítés","agazat":"Fafeldolgozás","i":1,"ertek":50},
   {"sorozat":"Termelésbővítés","agazat":"Fémfeldolgozás","i":2,"ertek":0},
   {"sorozat":"Termelésbővítés","agazat":"Gépgyártás","i":3,"ertek":15},
   {"sorozat":"Termelésbővítés","agazat":"Vegyianyag gyártás","i":4,"ertek":9},
   {"sorozat":"Ingatlan beruházás","agazat":"Élelmiszeripar","i":0,"ertek":0},
   {"sorozat":"Ingatlan beruházás","agazat":"Fafeldolgozás","i":1,"ertek":32},
   {"sorozat":"Ingatlan beruházás","agazat":"Fémfeldolgozás","i":2,"ertek":0},
   {"sorozat":"Ingatlan beruházás","agazat":"Gépgyártás","i":3,"ertek":0},
   {"sorozat":"Ingatlan beruházás","agazat":"Vegyianyag gyártás","i":4,"ertek":9.4},
   {"sorozat":"Technológia korszerűsítése","agazat":"Élelmiszeripar","i":0,"ertek":20},
   {"sorozat":"Technológia korszerűsítése","agazat":"Fafeldolgozás","i":1,"ertek":32},
   {"sorozat":"Technológia korszerűsítése","agazat":"Fémfeldolgozás","i":2,"ertek":29},
   {"sorozat":"Technológia korszerűsítése","agazat":"Gépgyártás","i":3,"ertek":28},
   {"sorozat":"Technológia korszerűsítése","agazat":"Vegyianyag gyártás","i":4,"ertek":10},
   {"sorozat":"K+F","agazat":"Élelmiszeripar","i":0,"ertek":0},
   {"sorozat":"K+F","agazat":"Fafeldolgozás","i":1,"ertek":0},
   {"sorozat":"K+F","agazat":"Fémfeldolgozás","i":2,"ertek":0},
   {"sorozat":"K+F","agazat":"Gépgyártás","i":3,"ertek":14},
   {"sorozat":"K+F","agazat":"Vegyianyag gyártás","i":4,"ertek":0}
  ]},
  "encoding":{
   "x":{"field":"px","type":"quantitative","axis":null,"scale":{"domain":[-102.46,92.37],"nice":false,"zero":false}},
   "y":{"field":"py","type":"quantitative","axis":null,"scale":{"domain":[-54.01,60.22],"nice":false,"zero":false}}},
  "layer":[
   {"data":{"values":[{"kor":10,"k":[0,1,2,3,4]},{"kor":20,"k":[0,1,2,3,4]},{"kor":30,"k":[0,1,2,3,4]},{"kor":40,"k":[0,1,2,3,4]},{"kor":50,"k":[0,1,2,3,4]}]},
    "transform":[{"flatten":["k"]},{"calculate":"datum.kor*sin(datum.k*2*PI/5)","as":"px"},{"calculate":"datum.kor*cos(datum.k*2*PI/5)","as":"py"}],
    "mark":{"type":"line","interpolate":"linear-closed","color":"#8C8C8C","strokeWidth":1},
    "encoding":{"detail":{"field":"kor","type":"nominal"},"order":{"field":"k","type":"quantitative"}}},
   {"transform":[{"filter":"datum.sorozat === 'Termelésbővítés'"},{"calculate":"0","as":"px"},{"calculate":"0","as":"py"},{"calculate":"50*sin(datum.i*2*PI/5)","as":"sx"},{"calculate":"50*cos(datum.i*2*PI/5)","as":"sy"}],
    "mark":{"type":"rule","color":"#8C8C8C","strokeWidth":1},
    "encoding":{"x2":{"field":"sx"},"y2":{"field":"sy"}}},
   {"data":{"values":[{"t":0},{"t":10},{"t":20},{"t":30},{"t":40},{"t":50}]},
    "transform":[{"calculate":"0","as":"px"},{"calculate":"datum.t","as":"py"},{"calculate":"datum.t + '%'","as":"cimke"}],
    "mark":{"type":"text","align":"right","dx":-10,"baseline":"middle","font":"Lato","fontWeight":"bold","fontSize":10.5,"color":"#000000"},
    "encoding":{"text":{"field":"cimke"}}},
   {"transform":[{"filter":"datum.sorozat === 'Termelésbővítés'"},{"calculate":"50*sin(datum.i*2*PI/5)","as":"px"},{"calculate":"50*cos(datum.i*2*PI/5)","as":"py"},{"filter":"abs(datum.px) < 1"}],
    "mark":{"type":"text","align":"center","dy":-13,"baseline":"middle","font":"Lato","fontWeight":"bold","fontSize":10.5,"color":"#000000"},
    "encoding":{"text":{"field":"agazat"}}},
   {"transform":[{"filter":"datum.sorozat === 'Termelésbővítés'"},{"calculate":"50*sin(datum.i*2*PI/5)","as":"px"},{"calculate":"50*cos(datum.i*2*PI/5)","as":"py"},{"filter":"datum.px >= 1 && datum.py > 0"}],
    "mark":{"type":"text","align":"left","dx":5,"dy":-1,"baseline":"middle","font":"Lato","fontWeight":"bold","fontSize":10.5,"color":"#000000"},
    "encoding":{"text":{"field":"agazat"}}},
   {"transform":[{"filter":"datum.sorozat === 'Termelésbővítés'"},{"calculate":"50*sin(datum.i*2*PI/5)","as":"px"},{"calculate":"50*cos(datum.i*2*PI/5)","as":"py"},{"filter":"datum.px >= 1 && datum.py <= 0"}],
    "mark":{"type":"text","align":"left","dx":4,"dy":4,"baseline":"middle","font":"Lato","fontWeight":"bold","fontSize":10.5,"color":"#000000"},
    "encoding":{"text":{"field":"agazat"}}},
   {"transform":[{"filter":"datum.sorozat === 'Termelésbővítés'"},{"calculate":"50*sin(datum.i*2*PI/5)","as":"px"},{"calculate":"50*cos(datum.i*2*PI/5)","as":"py"},{"filter":"datum.px <= -1 && datum.py > 0"}],
    "mark":{"type":"text","align":"right","dx":-3,"dy":-1,"baseline":"middle","font":"Lato","fontWeight":"bold","fontSize":10.5,"color":"#000000"},
    "encoding":{"text":{"field":"agazat"}}},
   {"transform":[{"filter":"datum.sorozat === 'Termelésbővítés'"},{"calculate":"50*sin(datum.i*2*PI/5)","as":"px"},{"calculate":"50*cos(datum.i*2*PI/5)","as":"py"},{"filter":"datum.px <= -1 && datum.py <= 0"}],
    "mark":{"type":"text","align":"right","dx":0,"dy":4,"baseline":"middle","font":"Lato","fontWeight":"bold","fontSize":10.5,"color":"#000000"},
    "encoding":{"text":{"field":"agazat"}}},
   {"transform":[{"calculate":"datum.ertek*sin(datum.i*2*PI/5)","as":"px"},{"calculate":"datum.ertek*cos(datum.i*2*PI/5)","as":"py"}],
    "mark":{"type":"line","interpolate":"linear-closed","strokeWidth":3.5},
    "encoding":{"order":{"field":"i","type":"quantitative"},
     "color":{"field":"sorozat","type":"nominal","scale":{"domain":["Termelésbővítés","Ingatlan beruházás","Technológia korszerűsítése","K+F"],"range":["#9B3B3B","#000000","#95B3D7","#DCC5CE"]},
      "legend":{"title":null,"orient":"none","legendX":10.4,"legendY":155,"symbolType":"M-2.2,0H2.2","symbolSize":81,"symbolStrokeWidth":4,"labelFontWeight":"bold","labelFontSize":10,"labelColor":"#000000","labelOffset":5,"rowPadding":-4,"padding":0}}}}
  ]}
],"spacing":0,"bounds":"flush","resolve":{"scale":{"color":"independent"}}},
{"width":960,"height":11,"data":{"values":[]},"mark":{"type":"text","text":""}},
{"width":958,"height":4,"view":{"fill":"#1E1E1E"},"data":{"values":[]},"mark":{"type":"text","text":""}},
{"width":960,"height":24,
 "data":{"values":[{"hely":"bal","szoveg":"MFB-INDIKÁTOR"},{"hely":"kozep","szoveg":"7"},{"hely":"jobb","szoveg":"2011. ősz"}]},
 "encoding":{"x":{"field":"hely","type":"nominal","axis":null,"scale":{"type":"point","domain":["bal","kozep","jobb"],"range":[15,952],"padding":0}},"text":{"field":"szoveg"}},
 "layer":[
  {"transform":[{"filter":"datum.hely === 'bal'"}],"mark":{"type":"text","align":"left","baseline":"middle","font":"Roboto","fontWeight":"bold","fontSize":19,"color":"#1B4F72"}},
  {"transform":[{"filter":"datum.hely === 'kozep'"}],"mark":{"type":"text","align":"center","baseline":"middle","dx":-17,"dy":2,"font":"DejaVu Sans","fontSize":16,"color":"#111111"}},
  {"transform":[{"filter":"datum.hely === 'jobb'"}],"mark":{"type":"text","align":"right","baseline":"middle","font":"Roboto","fontWeight":"bold","fontSize":19,"color":"#1B4F72"}}
 ]}
]}
